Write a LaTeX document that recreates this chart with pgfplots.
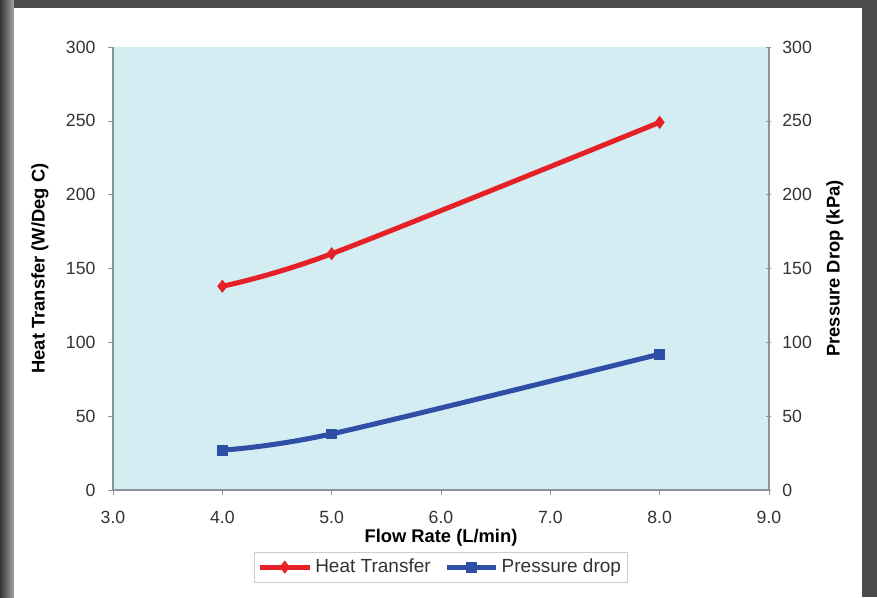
\documentclass[border=0pt]{standalone}
\usepackage{pgfplots}
\pgfplotsset{compat=1.18}
\usepackage{fontspec}
\setmainfont{Liberation Sans}
\definecolor{bgblue}{HTML}{D4EDF3}
\definecolor{hred}{HTML}{E52127}
\definecolor{pblue}{HTML}{2E4FA5}
\definecolor{axgray}{HTML}{8A9598}
\definecolor{txt}{HTML}{333333}
\begin{document}
\begin{tikzpicture}[x=0.6pt,y=0.6pt]
% frame
\fill[gray!60!black] (-113,-107) rectangle (764,490);
\shade[left color=gray!40!black, right color=gray!70] (-113,-107) rectangle (-99,490);
\fill[white] (-99,-107) rectangle (749,482);
\pgfplotsset{
  every axis/.style={
    scale only axis, width=393.6pt, height=265.8pt,
    at={(0,0)}, anchor=south west,
    xmin=3, xmax=9, ymin=0, ymax=300,
    ytick={0,50,...,300},
    tick style={axgray, thin},
    tick align=outside, major tick length=3pt,
    ticklabel style={font=\fontsize{10.6}{12}\selectfont, text=txt},
    /pgf/number format/assume math mode=true,
    label style={font=\fontsize{11}{13}\selectfont\bfseries, text=black},
  }
}
\begin{axis}[
  axis y line*=left, axis x line*=bottom,
  axis background/.style={fill=bgblue},
  axis line style={axgray, thick},
  xtick={3,4,...,9},
  xticklabel={\pgfmathprintnumber[fixed,fixed zerofill,precision=1]{\tick}},
  xticklabel style={yshift=-6pt},
  yticklabel style={xshift=-4pt},
  xlabel={Flow Rate (L/min)},
  xlabel style={at={(axis description cs:0.5,-0.108)}, anchor=center},
  ylabel={Heat Transfer (W/Deg C)},
  ylabel style={at={(axis description cs:-0.1113,0.5)}, anchor=center},
  legend style={at={(axis description cs:0.5,-0.174)}, anchor=center,
    draw=gray!40, font=\fontsize{11.4}{13}\selectfont, text=txt, legend columns=2,
    /tikz/every even column/.append style={column sep=6pt}, inner sep=2pt},
  legend image code/.code={
    \draw[#1, mark repeat=2, mark phase=2] plot coordinates {(0cm,0cm) (0.52cm,0cm) (1.04cm,0cm)};
  },
]
\addplot[hred, line width=3pt, smooth, tension=0.5, mark=diamond*, mark size=3.6pt, mark options={line width=0.5pt}]
  coordinates {(4,138) (5,160) (8,249)};
\addlegendentry{Heat Transfer}
\addlegendimage{pblue, line width=3pt, mark=square*, mark size=2.9pt, mark options={line width=0.5pt}}
\addlegendentry{Pressure drop}
\end{axis}
\begin{axis}[
  axis y line*=right, axis x line=none,
  axis line style={axgray, thick},
  tick align=center,
  yticklabel style={xshift=3pt},
  ylabel={Pressure Drop (kPa)},
  ylabel style={at={(axis description cs:1.1006,0.5)}, anchor=center},
]
\addplot[pblue, line width=3pt, smooth, tension=0.5, mark=square*, mark size=2.9pt, mark options={line width=0.5pt}]
  coordinates {(4,27) (5,38) (8,92)};
\end{axis}
\end{tikzpicture}
\end{document}
